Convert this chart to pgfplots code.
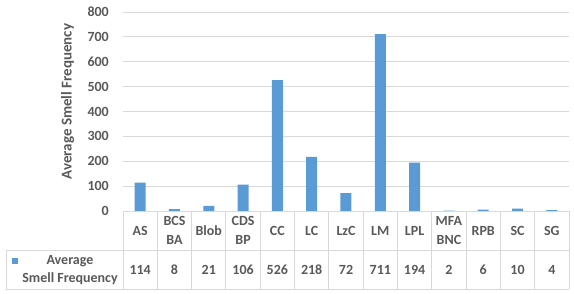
\documentclass[border=0pt]{standalone}
\usepackage{pgfplots}
\pgfplotsset{compat=1.18}
\usepackage{fontspec}
\setmainfont{Carlito}
\definecolor{barblue}{HTML}{5B9BD5}
\definecolor{gridgray}{HTML}{D9D9D9}
\definecolor{txtgray}{HTML}{595959}
\begin{document}
\begin{tikzpicture}
\useasboundingbox (0pt,0pt) rectangle (574pt,293pt);
\begin{axis}[
 at={(123pt,82pt)}, anchor=south west,
 scale only axis, width=446pt, height=199pt,
 xmin=-0.5, xmax=12.5, ymin=0, ymax=800,
 ytick={0,100,...,800},
 xtick={0,...,12},
 xticklabels={AS,{BCS\\BA},Blob,{CDS\\BP},CC,LC,LzC,LM,LPL,{MFA\\BNC},RPB,SC,SG},
 xticklabel style={anchor=center, yshift=-19.5pt, align=center, font=\fontsize{14}{18.5}\selectfont\bfseries, text=txtgray, inner sep=0pt},
 yticklabel style={anchor=east, inner sep=0pt, xshift=-14pt, font=\fontsize{14}{16}\selectfont\bfseries, text=txtgray},
 /pgf/number format/assume math mode=true,
 axis line style={draw=none},
 tick style={draw=none},
 ymajorgrids, grid style={gridgray, line width=0.9pt},
 ylabel={Average Smell Frequency},
 ylabel style={at={(axis description cs:-0.124,0.550)}, anchor=center, rotate=0, font=\fontsize{15}{17}\selectfont\bfseries, text=txtgray},
 clip=false,
]
\addplot[ybar, bar width=11pt, fill=barblue, draw=none] coordinates {
 (0,114) (1,8) (2,21) (3,106) (4,526) (5,218) (6,72) (7,711) (8,194) (9,2) (10,6) (11,10) (12,4)};
\addplot[draw=none, mark=none, nodes near coords, point meta=explicit symbolic,
 every node near coord/.style={anchor=center, inner sep=0pt, font=\fontsize{14}{16}\selectfont\bfseries, text=txtgray}] coordinates {
 (0,-235)[114] (1,-235)[8] (2,-235)[21] (3,-235)[106] (4,-235)[526] (5,-235)[218] (6,-235)[72] (7,-235)[711] (8,-235)[194] (9,-235)[2] (10,-235)[6] (11,-235)[10] (12,-235)[4]};
\end{axis}
\begin{scope}[gridgray, line width=0.9pt]
\draw (123pt,82pt) -- (569pt,82pt);
\draw (6pt,43pt) -- (569pt,43pt);
\draw (6pt,4pt) -- (569pt,4pt);
\draw (6pt,43pt) -- (6pt,4pt);
\foreach \k in {0,...,13} \draw ({123pt+\k*34.3077pt},82pt) -- ({123pt+\k*34.3077pt},4pt);
\end{scope}
\fill[barblue] (11.5pt,29pt) rectangle (17.5pt,35pt);
\node[align=center, font=\fontsize{14}{18}\selectfont\bfseries, text=txtgray] at (70pt,23pt) {Average\\Smell Frequency};
\end{tikzpicture}
\end{document}
